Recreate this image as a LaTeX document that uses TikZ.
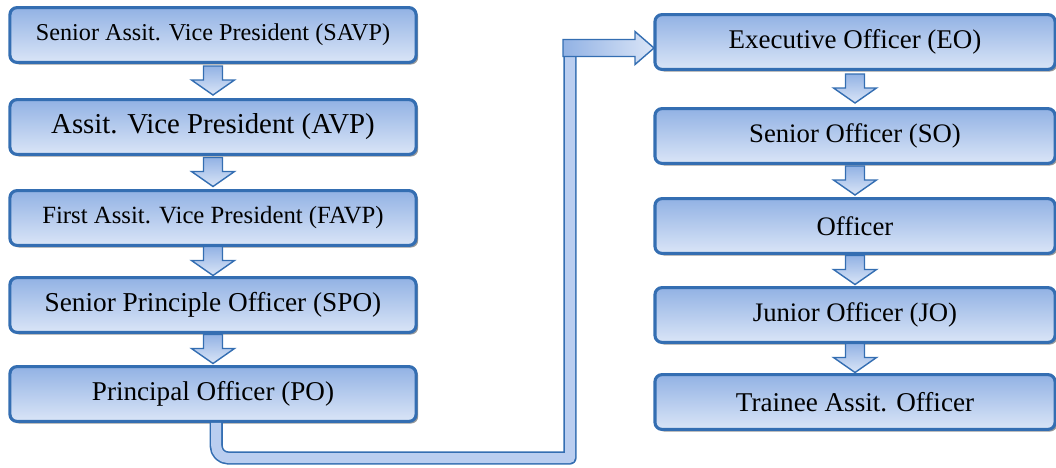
\documentclass[tikz,border=0pt]{standalone}
\usepackage{fontspec}
\setmainfont{Liberation Serif}
\usetikzlibrary{shadows,calc}
\definecolor{rankedge}{RGB}{52,110,178}
\definecolor{rankdark}{RGB}{146,178,228}
\definecolor{ranklight}{RGB}{218,229,247}
\definecolor{rankmid}{RGB}{186,206,240}
\tikzset{
	rank/.style={draw=rankedge, line width=2.2pt, rounded corners=5pt, top color=rankdark, bottom color=ranklight,
		minimum width=10.15cm, minimum height=1.37cm, inner sep=0pt,
		drop shadow={shadow xshift=1.5pt, shadow yshift=-1.5pt, fill=black!50, opacity=0.8}},
	arrowfill/.style={draw=rankedge, line width=1pt, line join=miter},
	pics/downarr/.style={code={
		\path[arrowfill, top color=rankdark, bottom color=ranklight]
			(-9.5,-15) -- (9.5,-15) -- (9.5,-1) -- (21.5,-1) -- (0,14) -- (-21.5,-1) -- (-9.5,-1) -- cycle;}},
	pics/rightarr/.style={code={
		\path[arrowfill, left color=rankdark, right color=ranklight]
			(-7,-8.5) -- (65,-8.5) -- (65,-16.5) -- (84,0) -- (65,16.5) -- (65,8.5) -- (-7,8.5) -- cycle;}}
}
\begin{document}
\begin{tikzpicture}[x=0.025cm, y=-0.025cm, line join=round]
	\useasboundingbox (0,0) rectangle (1056,467);
	% left column
	\node[rank, font=\fontsize{17.2}{19}\selectfont] (savp) at (213,35) {Senior Assit. Vice President (SAVP)};
	\node[rank, font=\fontsize{20.5}{22}\selectfont] (avp) at (213,127) {Assit. Vice President (AVP)};
	\node[rank, font=\fontsize{17.6}{19}\selectfont] (favp) at (213,218) {First Assit. Vice President (FAVP)};
	\node[rank, font=\fontsize{19.4}{21}\selectfont] (spo) at (213,305) {Senior Principle Officer (SPO)};
	\node[rank, font=\fontsize{19.3}{21}\selectfont] (po) at (213,394) {Principal Officer (PO)};
	% right column
	\node[rank, minimum width=10cm, font=\fontsize{19.2}{21}\selectfont] (eo) at (855,42) {Executive Officer (EO)};
	\node[rank, minimum width=10cm, font=\fontsize{19}{21}\selectfont] (so) at (855,136) {Senior Officer (SO)};
	\node[rank, minimum width=10cm, font=\fontsize{19}{21}\selectfont] (off) at (855,226) {Officer};
	\node[rank, minimum width=10cm, font=\fontsize{19}{21}\selectfont] (jo) at (855,315) {Junior Officer (JO)};
	\node[rank, minimum width=10cm, font=\fontsize{19.3}{21}\selectfont] (tao) at (855,402) {Trainee Assit. Officer};
	\foreach \a/\b in {savp/avp, avp/favp, favp/spo, spo/po, eo/so, so/off, off/jo, jo/tao}
		\pic at ($(\a.south)!0.5!(\b.north)$) {downarr};
	% bent connector PO -> EO
	\coordinate (drop) at ([xshift=0.08cm]po.south);
	\coordinate (low) at (570,458);
	\coordinate (turn) at (570,48);
	\draw[rankedge, line width=0.33cm] (drop) [rounded corners=0.3cm] -- (drop |- low) [sharp corners] -- (low) -- (turn);
	\draw[rankmid, line width=0.25cm] (drop) [rounded corners=0.3cm] -- (drop |- low) [sharp corners] -- (low) -- (turn);
	\pic at (turn) {rightarr};
\end{tikzpicture}
\end{document}
